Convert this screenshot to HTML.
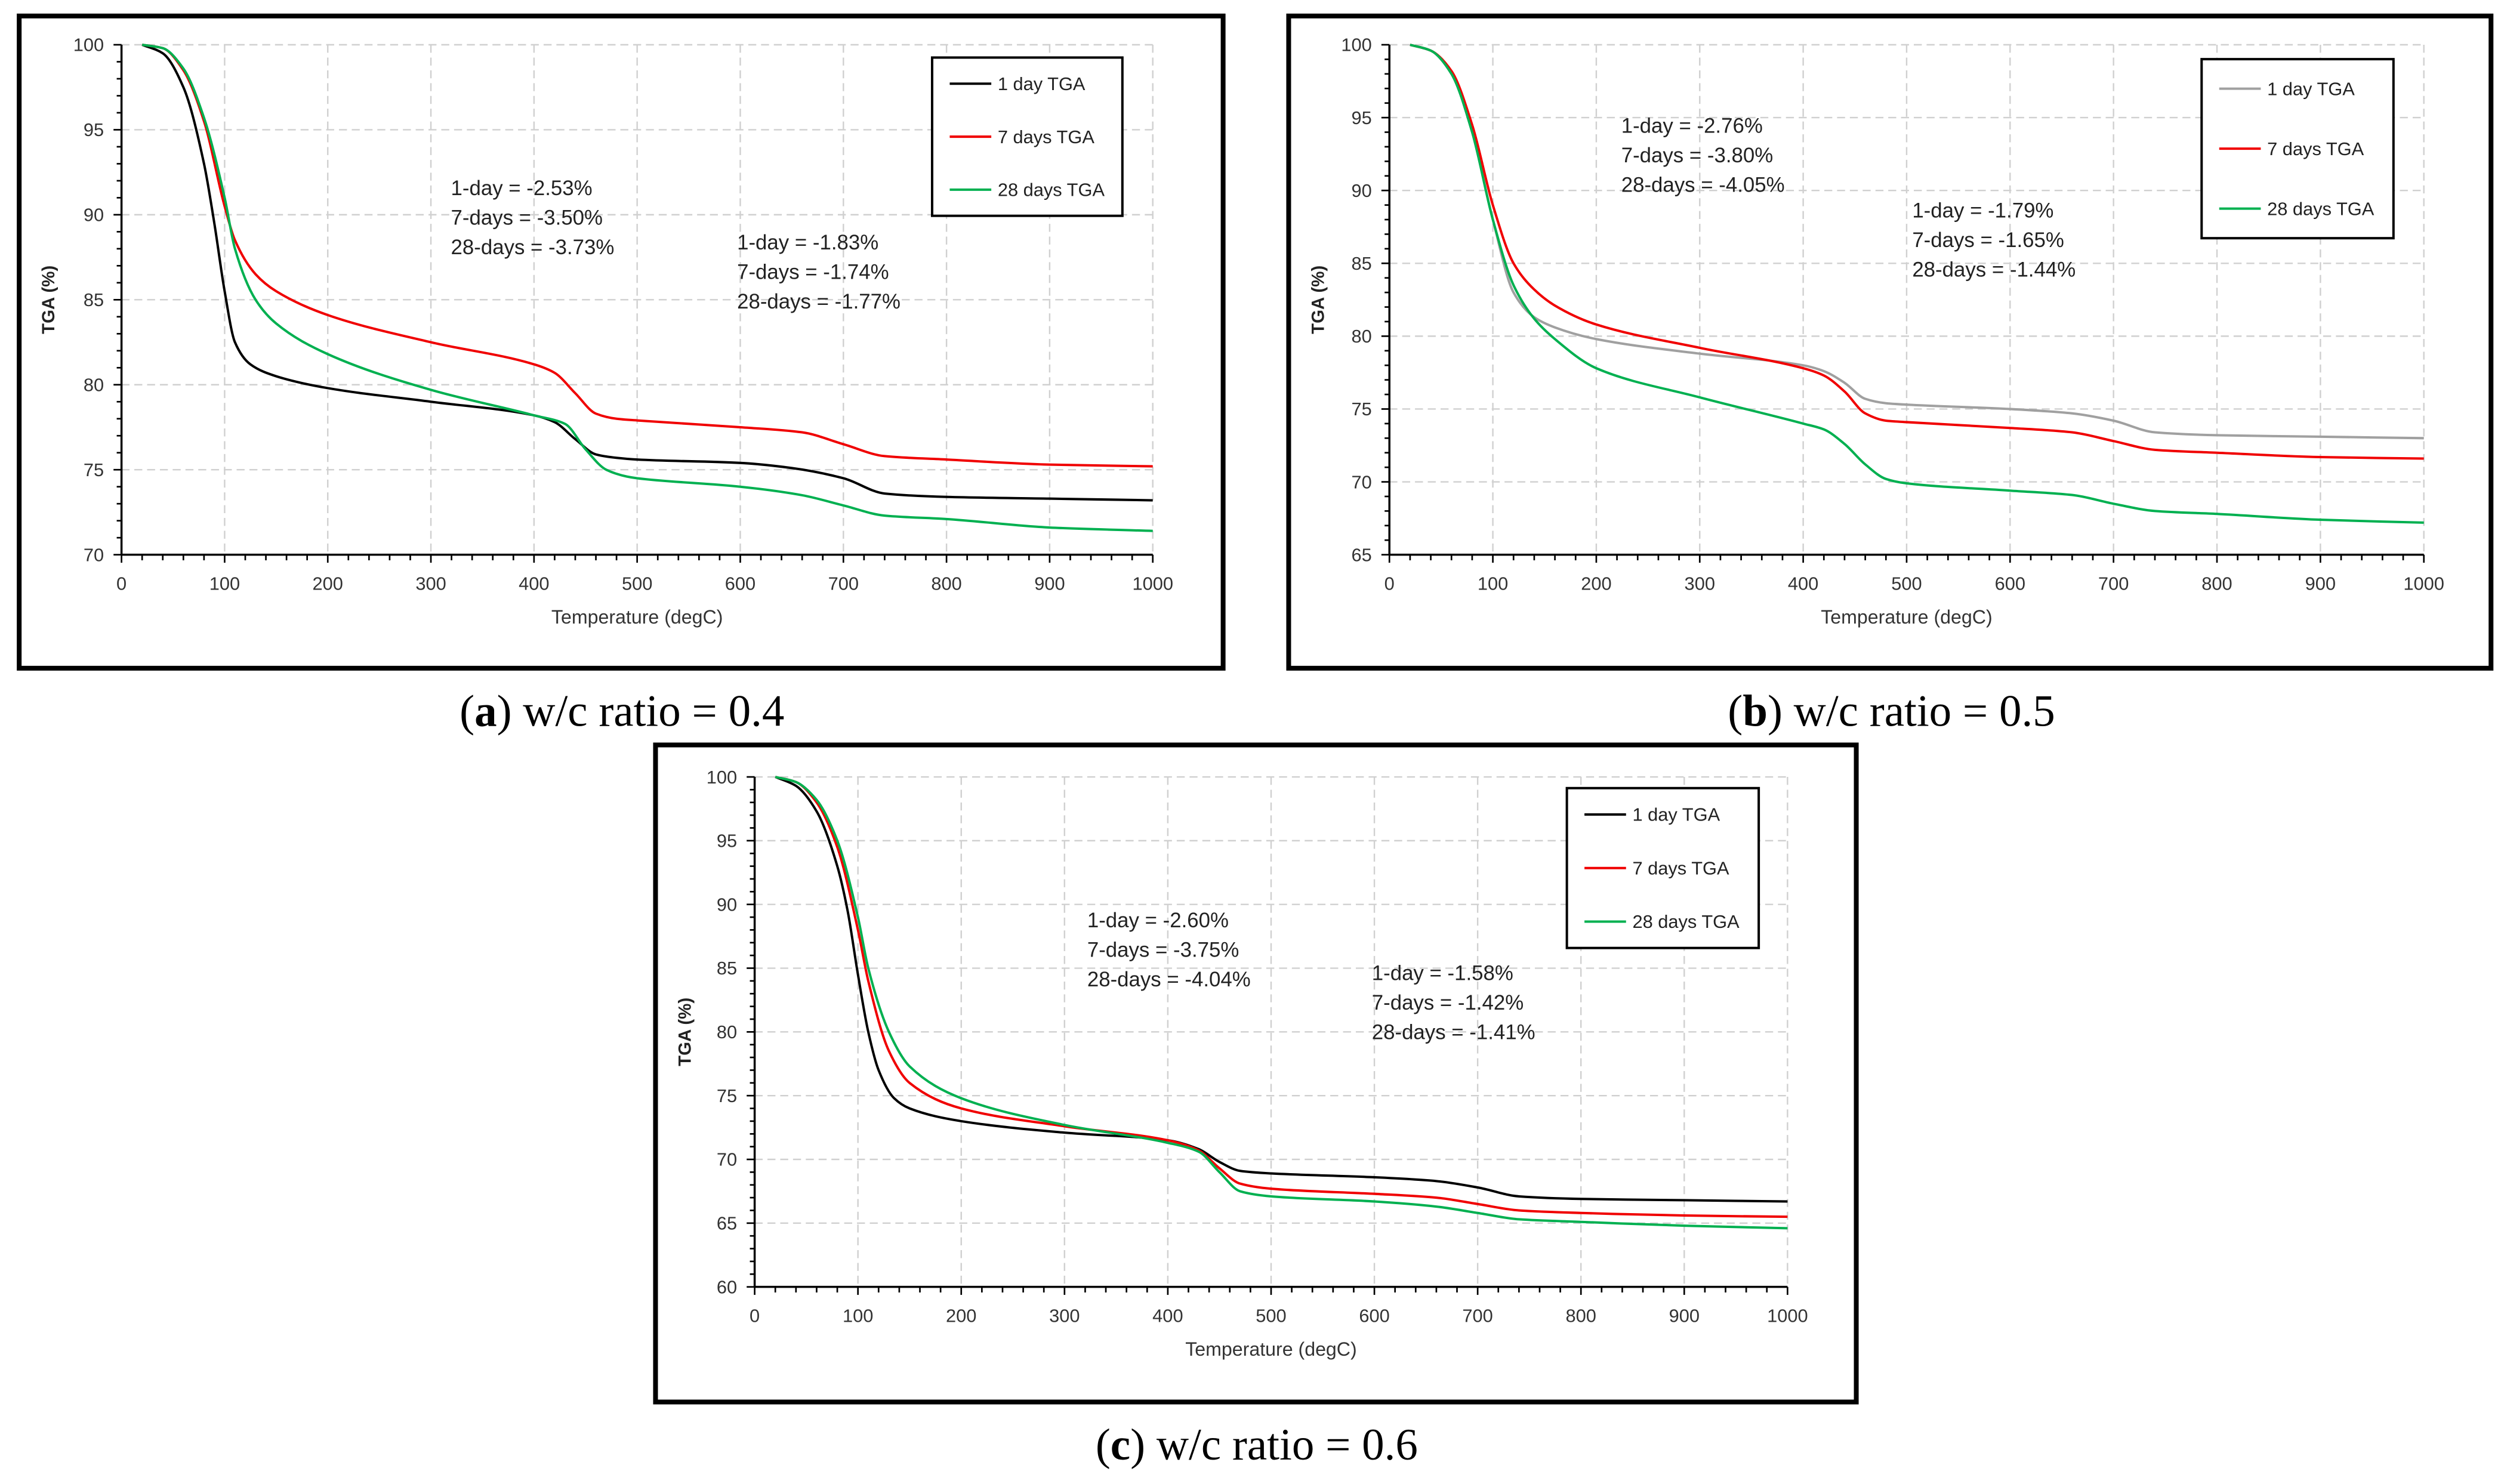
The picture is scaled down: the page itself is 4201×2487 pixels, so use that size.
<!DOCTYPE html>
<html><head><meta charset="utf-8"><style>
html,body{margin:0;padding:0;background:#fff;}
svg{display:block;}
text{font-family:"Liberation Sans",sans-serif;}
</style></head><body>
<svg id="fig" width="4201" height="2487" viewBox="0 0 1568 928.3" preserveAspectRatio="none" xmlns="http://www.w3.org/2000/svg"></svg>
<script>
// ---- data ----
const aT1=[20,40,60,80,90,100,110,125,150,200,300,400,420,440,460,480,500,600,650,700,740,800,900,1000];
const aV1=[100,99.5,97.5,93,89.5,85.5,82.5,81.2,80.5,79.8,79,78.2,77.8,76.8,75.9,75.7,75.6,75.4,75.1,74.5,73.6,73.4,73.3,73.2];
const aT7=[20,40,60,80,100,110,130,150,200,300,400,420,440,460,480,500,600,660,700,740,800,900,1000];
const aV7=[100,99.8,98.5,95.5,90.5,88.5,86.5,85.5,84.1,82.5,81.2,80.7,79.5,78.3,78,77.9,77.5,77.2,76.5,75.8,75.6,75.3,75.2];
const aT28=[20,40,60,80,100,110,130,150,200,300,400,430,450,470,490,500,600,660,700,740,800,900,1000];
const aV28=[100,99.8,98.6,95.7,91,88,85,83.6,81.8,79.7,78.2,77.7,76.2,75,74.6,74.5,74,73.5,72.9,72.3,72.1,71.6,71.4];

const bT=[20,40,60,80,100,120,140,160,200,300,400,420,440,460,480,500,600,660,700,740,800,900,1000];
const bV1=[100,99.6,98,94,88,83,81.3,80.6,79.8,78.8,78,77.6,76.8,75.7,75.4,75.3,75,74.7,74.2,73.4,73.2,73.1,73];
const bV7=[100,99.6,98.2,94.5,89,85,83.2,82.1,80.8,79.2,77.8,77.3,76.2,74.7,74.2,74.1,73.7,73.4,72.8,72.2,72,71.7,71.6];
const bV28=[100,99.6,98,94,88,83.5,81.2,79.8,77.8,75.8,74,73.6,72.6,71.2,70.2,69.9,69.4,69.1,68.5,68,67.8,67.4,67.2];

const cT1=[20,40,60,80,90,100,110,120,135,150,200,300,400,430,450,470,500,600,660,700,740,800,900,1000];
const cV1=[100,99.3,97.3,93,89.5,84.5,80,77,74.8,74,73,72.1,71.5,70.8,69.8,69.1,68.9,68.6,68.3,67.8,67.1,66.9,66.8,66.7];
const cT=[20,40,60,80,100,110,130,150,200,300,400,430,450,470,500,600,660,700,740,800,900,1000];
const cV7=[100,99.6,98,94.5,88,84,78.5,76,74,72.6,71.5,70.7,69.3,68.1,67.7,67.3,67,66.5,66,65.8,65.6,65.5];
const cV28=[100,99.6,98.2,95,89,85,80,77.3,74.8,72.7,71.3,70.6,69,67.5,67.1,66.7,66.3,65.8,65.3,65.1,64.8,64.6];

const xTicks=[0,100,200,300,400,500,600,700,800,900,1000];
const legendNames=["1 day TGA","7 days TGA","28 days TGA"];

const NS="http://www.w3.org/2000/svg";
const svg=document.getElementById('fig');
function mk(tag,attrs,parent){const e=document.createElementNS(NS,tag);for(const k in attrs)e.setAttribute(k,attrs[k]);(parent||svg).appendChild(e);return e;}

// monotone cubic path through pixel points
function smoothPath(xs,ys){
  const n=xs.length, d=[], m=new Array(n).fill(0);
  for(let i=0;i<n-1;i++)d.push((ys[i+1]-ys[i])/(xs[i+1]-xs[i]));
  m[0]=d[0];m[n-1]=d[n-2];
  for(let i=1;i<n-1;i++){ if(d[i-1]*d[i]<=0)m[i]=0; else { const w1=2*(xs[i+1]-xs[i])+(xs[i]-xs[i-1]), w2=(xs[i+1]-xs[i])+2*(xs[i]-xs[i-1]); m[i]=(w1+w2)/(w1/d[i-1]+w2/d[i]); } }
  let p='M'+xs[0].toFixed(2)+','+ys[0].toFixed(2);
  for(let i=0;i<n-1;i++){const h=(xs[i+1]-xs[i])/3;
    p+='C'+(xs[i]+h).toFixed(2)+','+(ys[i]+m[i]*h).toFixed(2)+' '+(xs[i+1]-h).toFixed(2)+','+(ys[i+1]-m[i+1]*h).toFixed(2)+' '+xs[i+1].toFixed(2)+','+ys[i+1].toFixed(2);}
  return p;
}

function panel(p){
  const g=mk('g',{});
  
  
  const fr=mk('rect',{x:p.fx,y:p.fy,width:p.fw,height:p.fh,fill:'#fff',stroke:'#000','stroke-width':3},g);
  
  
  const X=v=>p.x0+(p.x1-p.x0)*v/1000;
  const Y=v=>p.y1+(p.y0-p.y1)*(v-p.ymin)/(100-p.ymin);
  for(const t of xTicks){ if(t>0){const l=mk('line',{x1:X(t),x2:X(t),y1:Y(100),y2:Y(p.ymin),stroke:'#d0d0d0','stroke-width':0.9,'stroke-dasharray':'5,3'},g);}}
  for(let v=p.ymin+5;v<=100;v+=5){const l=mk('line',{x1:X(0),x2:X(1000),y1:Y(v),y2:Y(v),stroke:'#d0d0d0','stroke-width':0.9,'stroke-dasharray':'5,3'},g);}
  const ax=mk('line',{x1:X(0),x2:X(1000),y1:Y(p.ymin),y2:Y(p.ymin),stroke:'#000','stroke-width':1.3},g);
  
  const ay=mk('line',{x1:X(0),x2:X(0),y1:Y(100),y2:Y(p.ymin),stroke:'#000','stroke-width':1.3},g);
  
  for(let t=0;t<=1000;t+=20){mk('line',{x1:X(t),x2:X(t),y1:Y(p.ymin),y2:Y(p.ymin)+(t%100==0?5:3.5),stroke:'#000','stroke-width':1},g);}
  for(let v=p.ymin;v<=100;v+=1){mk('line',{x1:X(0),x2:X(0)-(v%5==0?5:3),y1:Y(v),y2:Y(v),stroke:'#000','stroke-width':1},g);}
  for(const t of xTicks){const tx=mk('text',{x:X(t),y:Y(p.ymin)+22,'font-size':11.5,'text-anchor':'middle',fill:'#333'},g);tx.textContent=t;}
  for(let v=p.ymin;v<=100;v+=5){const tx=mk('text',{x:X(0)-11,y:Y(v)+4,'font-size':11.5,'text-anchor':'end',fill:'#333'},g);tx.textContent=v;}
  const xt=mk('text',{x:(X(0)+X(1000))/2,y:Y(p.ymin)+43,'font-size':12,'text-anchor':'middle',fill:'#333'},g);
  xt.textContent='Temperature (degC)';
  const yx=p.fx+22, yy=(Y(100)+Y(p.ymin))/2;
  const yt=mk('text',{x:yx,y:yy,'font-size':11,'font-weight':'bold','text-anchor':'middle',fill:'#222',transform:`rotate(-90 ${yx} ${yy})`},g);
  yt.textContent='TGA (%)';
  p.series.forEach((s,i)=>{
    const d=smoothPath(s.t.map(X),s.v.map(Y));
    const pa=mk('path',{d:d,fill:'none',stroke:s.c,'stroke-width':1.5,'stroke-linejoin':'round'},g);
    
    
  });
  p.notes.forEach(n=>{
    n.lines.forEach((ln,k)=>{const tx=mk('text',{x:n.x,y:n.y+k*18.5+5,'font-size':13,fill:'#222'},g);tx.textContent=ln;});
  });
  const lg=mk('g',{},g);
  mk('rect',{x:p.lx,y:p.ly,width:p.lw,height:p.lh,fill:'#fff',stroke:'#000','stroke-width':1.5},lg);
  p.series.forEach((s,i)=>{
    const yy=p.ly+p.lh*(0.165+i*0.335);
    mk('line',{x1:p.lx+11,x2:p.lx+37,y1:yy,y2:yy,stroke:s.c,'stroke-width':1.5},lg);
    const tx=mk('text',{x:p.lx+41,y:yy+4,'font-size':11.5,fill:'#222'},lg);tx.textContent=legendNames[i];
    
  });
  const cap=mk('text',{x:p.capx,y:p.capy,'font-size':28,'text-anchor':'middle',fill:'#000',style:'font-family:"Liberation Serif",serif'},g);
  
  cap.innerHTML='(<tspan font-weight="bold">'+p.id+'</tspan>) w/c ratio = '+p.wc;
}

panel({id:'a',wc:'0.4',fx:12,fy:10,fw:753,fh:408,x0:76,x1:721,y0:28,y1:347,ymin:70,
  series:[{t:aT1,v:aV1,c:'#000'},{t:aT7,v:aV7,c:'#f00000'},{t:aT28,v:aV28,c:'#00b050'}],
  notes:[{x:282,y:117,lines:['1-day = -2.53%','7-days = -3.50%','28-days = -3.73%']},{x:461,y:151,lines:['1-day = -1.83%','7-days = -1.74%','28-days = -1.77%']}],
  lx:583,ly:36,lw:119,lh:99,capx:389,capy:454});
panel({id:'b',wc:'0.5',fx:806,fy:10,fw:752,fh:408,x0:869,x1:1516,y0:28,y1:347,ymin:65,
  series:[{t:bT,v:bV1,c:'#a0a0a0'},{t:bT,v:bV7,c:'#f00000'},{t:bT,v:bV28,c:'#00b050'}],
  notes:[{x:1014,y:78,lines:['1-day = -2.76%','7-days = -3.80%','28-days = -4.05%']},{x:1196,y:131,lines:['1-day = -1.79%','7-days = -1.65%','28-days = -1.44%']}],
  lx:1377,ly:37,lw:120,lh:112,capx:1183,capy:454});
panel({id:'c',wc:'0.6',fx:410,fy:466,fw:751,fh:411,x0:472,x1:1118,y0:486,y1:805,ymin:60,
  series:[{t:cT1,v:cV1,c:'#000'},{t:cT,v:cV7,c:'#f00000'},{t:cT,v:cV28,c:'#00b050'}],
  notes:[{x:680,y:575,lines:['1-day = -2.60%','7-days = -3.75%','28-days = -4.04%']},{x:858,y:608,lines:['1-day = -1.58%','7-days = -1.42%','28-days = -1.41%']}],
  lx:980,ly:493,lw:120,lh:100,capx:786,capy:913});
</script>
</body></html>
